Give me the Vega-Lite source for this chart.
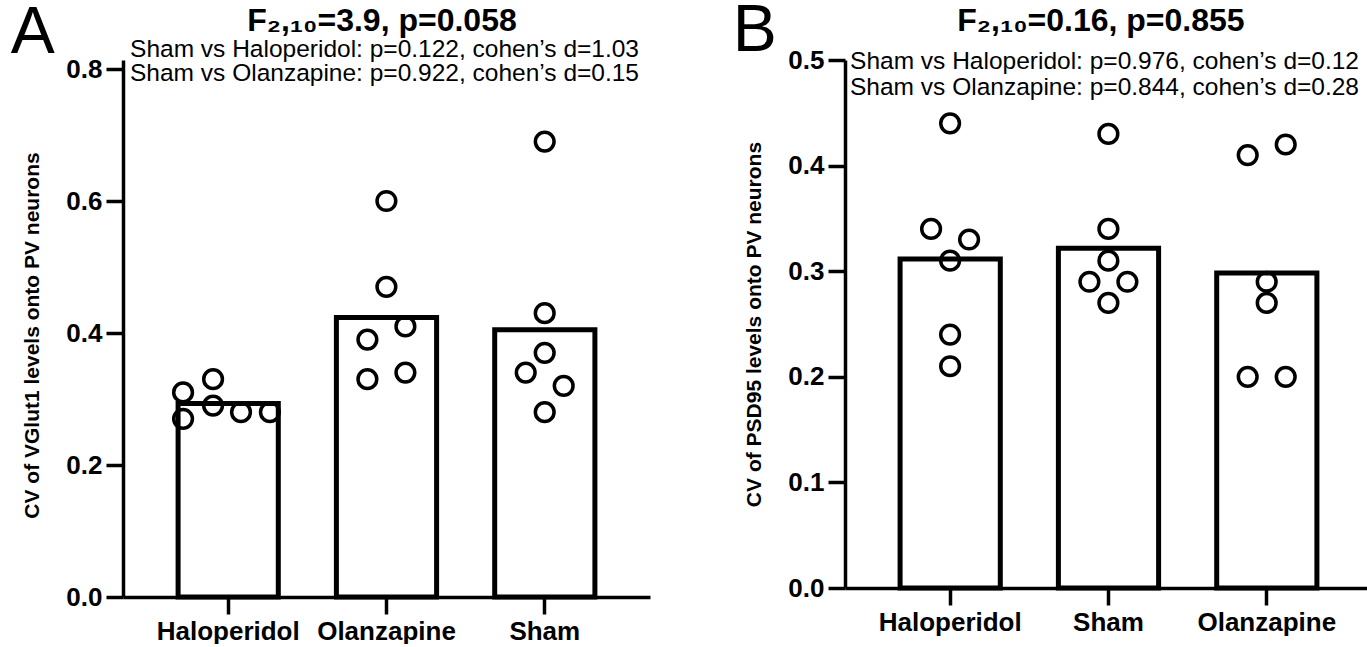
{
  "$schema": "https://vega.github.io/schema/vega-lite/v6.json",
  "background": "white",
  "padding": {"left": 10, "top": -2, "right": 0, "bottom": 0},
  "autosize": {"type": "pad"},
  "config": {
    "font": "Liberation Sans",
    "view": {"stroke": null},
    "title": {"color": "black", "font": "Liberation Sans"},
    "axis": {
      "domainColor": "black", "domainWidth": 3.5, "tickColor": "black", "tickWidth": 3.5, "tickSize": 17,
      "labelFont": "Liberation Sans", "labelFontSize": 26, "labelFontWeight": "bold", "labelColor": "black",
      "titleFont": "Liberation Sans", "titleFontSize": 21, "titleFontWeight": "bold", "titleColor": "black",
      "grid": false
    }
  },
  "datasets": {
    "panelA": [
      {"group": "Haloperidol", "value": 0.31, "jitter": -2.37},
      {"group": "Haloperidol", "value": 0.33, "jitter": -0.79},
      {"group": "Haloperidol", "value": 0.27, "jitter": -2.37},
      {"group": "Haloperidol", "value": 0.29, "jitter": -0.79},
      {"group": "Haloperidol", "value": 0.28, "jitter": 0.68},
      {"group": "Haloperidol", "value": 0.28, "jitter": 2.2},
      {"group": "Olanzapine", "value": 0.60, "jitter": 0},
      {"group": "Olanzapine", "value": 0.47, "jitter": 0},
      {"group": "Olanzapine", "value": 0.39, "jitter": -1},
      {"group": "Olanzapine", "value": 0.41, "jitter": 1},
      {"group": "Olanzapine", "value": 0.33, "jitter": -1},
      {"group": "Olanzapine", "value": 0.34, "jitter": 1},
      {"group": "Sham", "value": 0.69, "jitter": 0},
      {"group": "Sham", "value": 0.43, "jitter": 0},
      {"group": "Sham", "value": 0.37, "jitter": 0},
      {"group": "Sham", "value": 0.34, "jitter": -1},
      {"group": "Sham", "value": 0.32, "jitter": 1},
      {"group": "Sham", "value": 0.28, "jitter": 0}
    ],
    "panelB": [
      {"group": "Haloperidol", "value": 0.44, "jitter": 0},
      {"group": "Haloperidol", "value": 0.34, "jitter": -1},
      {"group": "Haloperidol", "value": 0.33, "jitter": 1},
      {"group": "Haloperidol", "value": 0.31, "jitter": 0},
      {"group": "Haloperidol", "value": 0.24, "jitter": 0},
      {"group": "Haloperidol", "value": 0.21, "jitter": 0},
      {"group": "Sham", "value": 0.43, "jitter": 0},
      {"group": "Sham", "value": 0.34, "jitter": 0},
      {"group": "Sham", "value": 0.31, "jitter": 0},
      {"group": "Sham", "value": 0.29, "jitter": -1},
      {"group": "Sham", "value": 0.29, "jitter": 1},
      {"group": "Sham", "value": 0.27, "jitter": 0},
      {"group": "Olanzapine", "value": 0.41, "jitter": -1},
      {"group": "Olanzapine", "value": 0.42, "jitter": 1},
      {"group": "Olanzapine", "value": 0.29, "jitter": 0},
      {"group": "Olanzapine", "value": 0.27, "jitter": 0},
      {"group": "Olanzapine", "value": 0.20, "jitter": -1},
      {"group": "Olanzapine", "value": 0.20, "jitter": 1}
    ]
  },
  "spacing": 82,
  "hconcat": [
    {
      "title": {"text": "A", "anchor": "start", "frame": "bounds", "fontSize": 66, "fontWeight": "normal", "offset": -62, "dx": -11},
      "vconcat": [
        {
          "title": {"text": "F₂,₁₀=3.9, p=0.058", "anchor": "middle", "fontSize": 32, "fontWeight": "bold", "offset": -1, "dx": 46},
          "vconcat": [
            {
              "title": {"text": ["Sham vs Haloperidol: p=0.122, cohen’s d=1.03", "Sham vs Olanzapine: p=0.922, cohen’s d=0.15"], "anchor": "end", "frame": "group", "fontSize": 24.5, "lineHeight": 24, "fontWeight": "normal", "offset": -30, "dx": -11},
              "width": 527,
              "height": 537,
              "data": {"name": "panelA"},
              "resolve": {"scale": {"xOffset": "independent"}},
              "layer": [
                {
                  "mark": {"type": "bar", "fill": "white", "stroke": "black", "strokeWidth": 5},
                  "encoding": {
                    "x": {"field": "group", "type": "nominal", "sort": ["Haloperidol", "Olanzapine", "Sham"], "scale": {"paddingInner": 0.367, "paddingOuter": 0.348}, "axis": {"title": null, "labelAngle": 0, "labelPadding": 4}},
                    "y": {"aggregate": "mean", "field": "value", "type": "quantitative", "scale": {"domain": [0, 0.81364], "nice": false}, "axis": {"title": "CV of VGlut1 levels onto PV neurons", "values": [0, 0.2, 0.4, 0.6, 0.8], "format": ".1f", "labelPadding": 4, "titlePadding": 23, "titleY": 275}}
                  }
                },
                {
                  "mark": {"type": "point", "shape": "circle", "filled": false, "stroke": "black", "strokeWidth": 3.5, "size": 350, "opacity": 1},
                  "encoding": {
                    "x": {"field": "group", "type": "nominal", "sort": ["Haloperidol", "Olanzapine", "Sham"], "axis": {"title": null, "labelAngle": 0, "labelPadding": 4}},
                    "xOffset": {"field": "jitter", "type": "quantitative", "scale": {"domain": [-3, 3], "range": [-7, 107]}},
                    "y": {"field": "value", "type": "quantitative", "axis": {"title": "CV of VGlut1 levels onto PV neurons", "values": [0, 0.2, 0.4, 0.6, 0.8], "format": ".1f", "labelPadding": 4, "titlePadding": 23, "titleY": 275}}
                  }
                }
              ]
            }
          ]
        }
      ]
    },
    {
      "title": {"text": "B", "anchor": "start", "frame": "bounds", "fontSize": 66, "fontWeight": "normal", "offset": -60, "dx": -11},
      "vconcat": [
        {
          "title": {"text": "F₂,₁₀=0.16, p=0.855", "anchor": "middle", "fontSize": 32, "fontWeight": "bold", "offset": 9, "dx": 43},
          "vconcat": [
            {
              "title": {"text": ["Sham vs Haloperidol: p=0.976, cohen’s d=0.12", "Sham vs Olanzapine: p=0.844, cohen’s d=0.28"], "anchor": "end", "frame": "group", "fontSize": 24.5, "lineHeight": 26, "fontWeight": "normal", "offset": -53, "dx": -13},
              "width": 527,
              "height": 528,
              "data": {"name": "panelB"},
              "resolve": {"scale": {"xOffset": "independent"}},
              "layer": [
                {
                  "mark": {"type": "bar", "fill": "white", "stroke": "black", "strokeWidth": 5},
                  "encoding": {
                    "x": {"field": "group", "type": "nominal", "sort": ["Haloperidol", "Sham", "Olanzapine"], "scale": {"paddingInner": 0.367, "paddingOuter": 0.348}, "axis": {"title": null, "labelAngle": 0, "labelPadding": 4}},
                    "y": {"aggregate": "mean", "field": "value", "type": "quantitative", "scale": {"domain": [0, 0.5], "nice": false}, "axis": {"title": "CV of PSD95 levels onto PV neurons", "values": [0, 0.1, 0.2, 0.3, 0.4, 0.5], "format": ".1f", "labelPadding": 4, "titlePadding": 23}}
                  }
                },
                {
                  "mark": {"type": "point", "shape": "circle", "filled": false, "stroke": "black", "strokeWidth": 3.5, "size": 350, "opacity": 1},
                  "encoding": {
                    "x": {"field": "group", "type": "nominal", "sort": ["Haloperidol", "Sham", "Olanzapine"], "axis": {"title": null, "labelAngle": 0, "labelPadding": 4}},
                    "xOffset": {"field": "jitter", "type": "quantitative", "scale": {"domain": [-3, 3], "range": [-7, 107]}},
                    "y": {"field": "value", "type": "quantitative", "axis": {"title": "CV of PSD95 levels onto PV neurons", "values": [0, 0.1, 0.2, 0.3, 0.4, 0.5], "format": ".1f", "labelPadding": 4, "titlePadding": 23}}
                  }
                }
              ]
            }
          ]
        }
      ]
    }
  ]
}
